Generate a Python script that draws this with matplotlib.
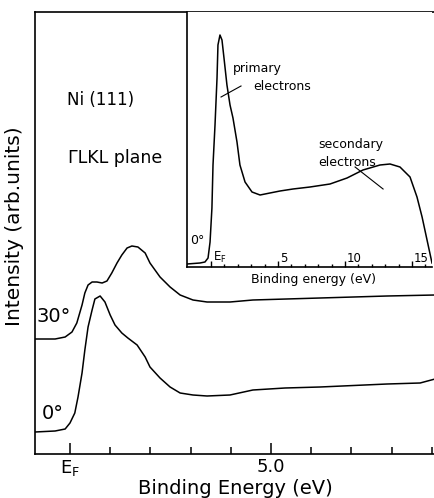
import matplotlib
matplotlib.use('Agg')
import matplotlib.pyplot as plt
import numpy as np

plt.rcParams['font.family'] = ['DejaVu Sans']

# Espectros principais (energia de ligação em eV, intensidade em unidades arbitrárias)
energia_0 = [-0.87, -0.37, -0.12, 0.0, 0.12, 0.20, 0.30, 0.37, 0.45, 0.55, 0.62, 0.75,
             0.87, 1.0, 1.12, 1.29, 1.44, 1.67, 1.87, 1.99, 2.24, 2.49, 2.74, 3.06,
             3.41, 3.98, 4.55, 5.35, 6.22, 7.89, 8.71, 9.08]
intensidade_0 = [22, 23, 25, 31, 41, 57, 81, 104, 127, 144, 155, 158,
                 152, 139, 129, 121, 116, 109, 97, 87, 76, 67, 61, 59,
                 58, 59, 64, 66, 67, 70, 71, 75]

energia_30 = [-0.87, -0.37, -0.12, 0.05, 0.17, 0.30, 0.37, 0.45, 0.55, 0.67, 0.80, 0.92,
              1.04, 1.17, 1.29, 1.42, 1.54, 1.69, 1.87, 1.99, 2.24, 2.49, 2.74, 3.06,
              3.41, 3.98, 4.55, 6.22, 7.89, 9.08]
intensidade_30 = [115, 115, 117, 122, 131, 149, 161, 169, 172, 172, 171, 173,
                  181, 191, 199, 206, 208, 207, 201, 191, 177, 167, 159, 154,
                  152, 152, 154, 156, 158, 159]

# Espectro completo (detalhe)
energia_det = [-1.79, -0.82, -0.45, -0.22, -0.07, 0.07, 0.15, 0.30, 0.45, 0.52, 0.67,
               0.82, 0.97, 1.19, 1.42, 1.64, 1.94, 2.16, 2.54, 3.06, 3.66, 4.40, 5.15,
               6.12, 7.39, 8.88, 10.15, 11.34, 12.61, 13.36, 14.10, 14.85, 15.37,
               15.75, 16.12, 16.49]
intensidade_det = [3, 4, 5, 9, 25, 59, 102, 142, 189, 222, 232,
                   227, 209, 182, 162, 149, 125, 102, 85, 75, 72, 74, 76,
                   78, 80, 83, 89, 97, 102, 103, 100, 90, 70,
                   50, 27, 4]

ticks_principais = [0, 5]
rotulos_principais = ['E$_\\mathregular{F}$', '5.0']
ticks_det = [0, 5, 10, 15]
rotulos_det = ['E$_\\mathregular{F}$', '5', '10', '15']

fig = plt.figure(figsize=(4.35, 4.98), dpi=100)

# Eixo principal
ax = fig.add_axes([35 / 435, 44 / 498, 400 / 435, 442 / 498])
ax.plot(energia_0, intensidade_0, color='black', lw=1.1, solid_joinstyle='round')
ax.plot(energia_30, intensidade_30, color='black', lw=1.1, solid_joinstyle='round')
ax.set_xlim(-0.87, 9.08)
ax.set_ylim(0, 442)
ax.spines['right'].set_visible(False)
for s in ['left', 'bottom', 'top']:
    ax.spines[s].set_linewidth(1.2)
ax.set_yticks([])
ax.set_xticks(ticks_principais)
ax.set_xticklabels(rotulos_principais, fontsize=13)
ax.set_xticks([1, 2, 3, 4, 6, 7, 8, 9], minor=True)
ax.tick_params(axis='x', which='major', direction='in', length=8, width=1.1, pad=3)
ax.tick_params(axis='x', which='minor', direction='in', length=5, width=1.1)
ax.set_xlabel('Binding Energy (eV)', fontsize=14, va='center')
ax.xaxis.set_label_coords(0.5, -0.079)
ax.set_ylabel('Intensity (arb.units)', fontsize=14.5, va='center')
ax.yaxis.set_label_coords(-0.05, 0.516)

ax.text(0.77, 354, 'Ni (111)', fontsize=12, ha='center', va='center')
ax.text(1.12, 296, 'ΓLKL plane', fontsize=12.5, ha='center', va='center')
ax.text(-0.4, 138, '30°', fontsize=14, ha='center', va='center')
ax.text(-0.43, 41, '0°', fontsize=14, ha='center', va='center')

# Detalhe com o espectro completo
ax_in = fig.add_axes([187 / 435, 231 / 498, 245 / 435, 255 / 498])
ax_in.plot(energia_det, intensidade_det, color='black', lw=1.1, solid_joinstyle='round')
ax_in.set_xlim(-1.79, 16.49)
ax_in.set_ylim(0, 255)
ax_in.spines['right'].set_visible(False)
ax_in.spines['top'].set_visible(False)
for s in ['left', 'bottom']:
    ax_in.spines[s].set_linewidth(1.2)
ax_in.set_yticks([])
ax_in.set_xticks(ticks_det)
ax_in.set_xticklabels([])
ax_in.set_xticks(np.arange(1, 17), minor=True)
ax_in.tick_params(axis='x', which='major', direction='in', length=4, width=1)
ax_in.tick_params(axis='x', which='minor', direction='in', length=2.5, width=1)
for t, r in zip(ticks_det, rotulos_det):
    ax_in.text(t + 0.15, 2, r, fontsize=8.5, ha='left', va='bottom')
ax_in.set_xlabel('Binding energy (eV)', fontsize=9, va='center')
ax_in.xaxis.set_label_coords(0.518, -0.05)

ax_in.text(-1.05, 27, '0°', fontsize=9, ha='center', va='center')
ax_in.text(1.6, 199, 'primary', fontsize=9, ha='left', va='center')
ax_in.text(3.15, 181, 'electrons', fontsize=9, ha='left', va='center')
ax_in.plot([0.75, 2.24], [170, 181], color='black', lw=0.8)
ax_in.text(8.0, 123, 'secondary', fontsize=9, ha='left', va='center')
ax_in.text(8.0, 105, 'electrons', fontsize=9, ha='left', va='center')
ax_in.plot([10.75, 12.84], [100, 78], color='black', lw=0.8)

fig.savefig('out.png', dpi=100)
